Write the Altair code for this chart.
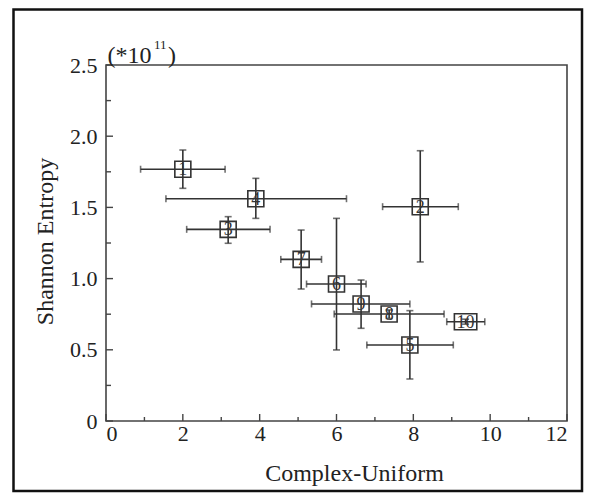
import altair as alt
import pandas as pd

ids = ["1", "2", "3", "4", "5", "6", "7", "8", "9", "10"]
x_val = [2.00, 8.18, 3.18, 3.90, 7.91, 6.00, 5.08, 7.37, 6.64, 9.36]
y_val = [1.768, 1.505, 1.346, 1.561, 0.534, 0.962, 1.135, 0.751, 0.822, 0.697]
x_lo = [0.90, 7.20, 2.10, 1.56, 6.79, 5.22, 4.55, 5.94, 5.35, 8.87]
x_hi = [3.10, 9.17, 4.27, 6.26, 9.04, 6.77, 5.61, 8.80, 7.91, 9.86]
y_lo = [1.634, 1.117, 1.248, 1.423, 0.295, 0.499, 0.927, 0.72, 0.651, 0.68]
y_hi = [1.903, 1.898, 1.435, 1.704, 0.775, 1.423, 1.341, 0.78, 0.990, 0.715]

x_major = [0, 2, 4, 6, 8, 10, 12]
x_minor = [1, 3, 5, 7, 9, 11]
y_major = [0, 0.5, 1.0, 1.5, 2.0, 2.5]
y_minor = [0.25, 0.75, 1.25, 1.75, 2.25]

df = pd.DataFrame({"id": ids, "x": x_val, "y": y_val,
                   "xlo": x_lo, "xhi": x_hi, "ylo": y_lo, "yhi": y_hi})

W, H = 461, 356
FONT = "'Liberation Serif', 'Times New Roman', Times, serif"
LINE = "#333333"
FRAME = "#444444"
TXT = "#222222"

xs = alt.Scale(domain=[0, 12], nice=False, zero=False)
ys = alt.Scale(domain=[0, 2.5], nice=False, zero=False)

base = alt.Chart(df)

xaxis = alt.Axis(values=x_major, format="d", ticks=False, domain=False, grid=False,
                 labelFont=FONT, labelFontSize=22, labelColor=TXT, labelPadding=2,
                 title="Complex-Uniform", titleFont=FONT, titleFontSize=24,
                 titleFontWeight="normal", titleColor=TXT,
                 titleX=248, titleY=59, titleBaseline="alphabetic", titleAlign="center")
yaxis = alt.Axis(values=y_major, labelExpr="datum.value == 0 ? '0' : format(datum.value, '.1f')",
                 ticks=False, domain=False, grid=False,
                 labelFont=FONT, labelFontSize=22, labelColor=TXT, labelPadding=9,
                 title="Shannon Entropy", titleFont=FONT, titleFontSize=24,
                 titleFontWeight="normal", titleColor=TXT,
                 titleX=-54, titleY=176, titleAngle=-90, titleBaseline="alphabetic",
                 titleAlign="center")

hbar = base.mark_rule(color=LINE, strokeWidth=1.6).encode(
    x=alt.X("xlo:Q", scale=xs, axis=xaxis), x2="xhi:Q",
    y=alt.Y("y:Q", scale=ys, axis=yaxis))
vbar = base.mark_rule(color=LINE, strokeWidth=1.6).encode(
    x=alt.X("x:Q", scale=xs), y=alt.Y("ylo:Q", scale=ys), y2="yhi:Q")
cap_xl = base.mark_tick(orient="vertical", size=7, thickness=1.6, color=LINE).encode(
    x=alt.X("xlo:Q", scale=xs), y=alt.Y("y:Q", scale=ys))
cap_xh = base.mark_tick(orient="vertical", size=7, thickness=1.6, color=LINE).encode(
    x=alt.X("xhi:Q", scale=xs), y=alt.Y("y:Q", scale=ys))
cap_yl = base.mark_tick(orient="horizontal", size=7, thickness=1.6, color=LINE).encode(
    x=alt.X("x:Q", scale=xs), y=alt.Y("ylo:Q", scale=ys))
cap_yh = base.mark_tick(orient="horizontal", size=7, thickness=1.6, color=LINE).encode(
    x=alt.X("x:Q", scale=xs), y=alt.Y("yhi:Q", scale=ys))

sq = "M-1,-1H1V1H-1Z"
wide = "M-1.4,-1H1.4V1H-1.4Z"
squares = base.mark_point(size=256, filled=False, stroke=LINE, strokeWidth=1.6, opacity=1).encode(
    x=alt.X("x:Q", scale=xs), y=alt.Y("y:Q", scale=ys),
    shape=alt.Shape("id:N", scale=alt.Scale(domain=ids, range=[sq] * 9 + [wide]), legend=None))
labels = base.mark_text(font=FONT, fontSize=18, color="#333333", baseline="middle",
                        align="center", dy=1).encode(
    x=alt.X("x:Q", scale=xs), y=alt.Y("y:Q", scale=ys), text="id:N")

tx = pd.DataFrame({"v": x_major})
txm = pd.DataFrame({"v": x_minor})
ty = pd.DataFrame({"v": y_major})
tym = pd.DataFrame({"v": y_minor})
tick_xM = alt.Chart(tx).mark_rule(color=FRAME, strokeWidth=1.4).encode(
    x=alt.X("v:Q", scale=xs), y=alt.value(H), y2=alt.value(H - 7))
tick_xm = alt.Chart(txm).mark_rule(color=FRAME, strokeWidth=1.4).encode(
    x=alt.X("v:Q", scale=xs), y=alt.value(H), y2=alt.value(H - 4))
tick_yM = alt.Chart(ty).mark_rule(color=FRAME, strokeWidth=1.4).encode(
    y=alt.Y("v:Q", scale=ys), x=alt.value(0), x2=alt.value(7))
tick_ym = alt.Chart(tym).mark_rule(color=FRAME, strokeWidth=1.4).encode(
    y=alt.Y("v:Q", scale=ys), x=alt.value(0), x2=alt.value(5))

one = alt.Data(values=[{"a": 1}])
mult1 = alt.Chart(one).mark_text(font=FONT, fontSize=24, align="left", baseline="alphabetic",
                                 color=TXT).encode(
    x=alt.value(1.6), y=alt.value(-2.3), text=alt.value("(*10"))
mult2 = alt.Chart(one).mark_text(font=FONT, fontSize=13, align="left", baseline="alphabetic",
                                 color=TXT).encode(
    x=alt.value(48), y=alt.value(-15.6), text=alt.value("11"))
mult3 = alt.Chart(one).mark_text(font=FONT, fontSize=24, align="left", baseline="alphabetic",
                                 color=TXT).encode(
    x=alt.value(62), y=alt.value(-2.3), text=alt.value(")"))
outer = alt.Chart(one).mark_rect(filled=False, stroke="#111111", strokeWidth=2.5).encode(
    x=alt.value(-92.5), x2=alt.value(476), y=alt.value(-55.5), y2=alt.value(426))

chart = alt.layer(
    outer, tick_xM, tick_xm, tick_yM, tick_ym,
    hbar, vbar, cap_xl, cap_xh, cap_yl, cap_yh, squares, labels,
    mult1, mult2, mult3
).properties(
    width=W, height=H, autosize="none", background="white",
    padding={"left": 98, "top": 57, "right": 21, "bottom": 72}
).configure_view(stroke=FRAME, strokeWidth=1.6)

chart.save("out.html", embed_options={"renderer": "svg", "actions": False})
